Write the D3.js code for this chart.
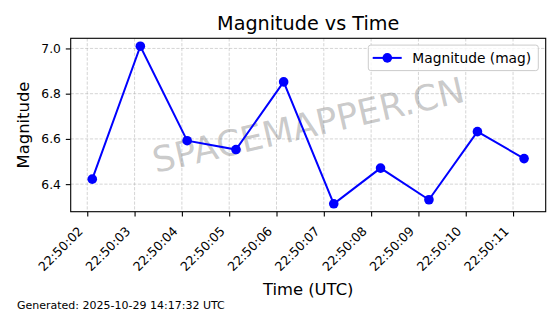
<!DOCTYPE html>
<html>
<head>
<meta charset="utf-8">
<script src="https://cdn.jsdelivr.net/npm/d3@7"></script>
<style>
  body { margin: 0; background: #fff; }
  svg { display: block; font-family: "DejaVu Sans", sans-serif; }
</style>
</head>
<body>
<div id="chart"></div>
<script>
const times = ["22:50:02.106", "22:50:03.122", "22:50:04.111", "22:50:05.143", "22:50:06.151",
               "22:50:07.210", "22:50:08.199", "22:50:09.222", "22:50:10.247", "22:50:11.233"];
const magnitudes = [6.422, 7.010, 6.592, 6.553, 6.852, 6.313, 6.471, 6.331, 6.632, 6.513];
const xTickLabels = ["22:50:02", "22:50:03", "22:50:04", "22:50:05", "22:50:06",
                     "22:50:07", "22:50:08", "22:50:09", "22:50:10", "22:50:11"];
const yTicks = [6.4, 6.6, 6.8, 7.0];
const seriesName = "Magnitude (mag)";
const titleText = "Magnitude vs Time";
const footerText = "Generated: 2025-10-29 14:17:32 UTC";
const watermark = "SPACEMAPPER.CN";

const W = 560, H = 314;
const margin = { top: 38.3, right: 14.3, bottom: 102.3, left: 70.7 };
const width = W - margin.left - margin.right;
const height = H - margin.top - margin.bottom;

const parseT = d3.utcParse("%H:%M:%S.%L");
const parseTick = d3.utcParse("%H:%M:%S");
const data = times.map((t, i) => ({ date: parseT(t), value: magnitudes[i] }));
const tickDates = xTickLabels.map(parseTick);

// 5% padding like matplotlib
const [t0, t1] = d3.extent(data, d => d.date);
const tp = (t1 - t0) * 0.05;
const [v0, v1] = d3.extent(data, d => d.value);
const vp = (v1 - v0) * 0.05;

const x = d3.scaleUtc()
    .domain([new Date(+t0 - tp), new Date(+t1 + tp)])
    .range([0, width]);
const y = d3.scaleLinear()
    .domain([v0 - vp, v1 + vp])
    .range([height, 0]);

const svg = d3.select("#chart").append("svg")
    .attr("width", W)
    .attr("height", H);

svg.append("rect").attr("width", W).attr("height", H).attr("fill", "#fff");

const g = svg.append("g")
    .attr("transform", `translate(${margin.left},${margin.top})`);

// grid
const grid = g.append("g").attr("stroke", "#b0b0b0").attr("stroke-opacity", 0.6)
    .attr("stroke-width", 0.9).attr("stroke-dasharray", "3.2,1.6");
grid.selectAll(".gx").data(tickDates).join("line")
    .attr("x1", d => x(d)).attr("x2", d => x(d))
    .attr("y1", 0).attr("y2", height);
grid.selectAll(".gy").data(yTicks).join("line")
    .attr("x1", 0).attr("x2", width)
    .attr("y1", d => y(d)).attr("y2", d => y(d));

// watermark
g.append("text")
    .attr("transform", `translate(${width / 2},${height / 2}) rotate(-13)`)
    .attr("text-anchor", "middle")
    .attr("dominant-baseline", "central")
    .attr("font-size", 35.5)
    .attr("fill", "#808080")
    .attr("fill-opacity", 0.42)
    .text(watermark);

// series
const line = d3.line().x(d => x(d.date)).y(d => y(d.value));
g.append("path")
    .datum(data)
    .attr("fill", "none")
    .attr("stroke", "#0000ff")
    .attr("stroke-width", 2)
    .attr("d", line);
g.selectAll(".pt").data(data).join("circle")
    .attr("cx", d => x(d.date))
    .attr("cy", d => y(d.value))
    .attr("r", 4.8)
    .attr("fill", "#0000ff");

// axes
const xAxis = d3.axisBottom(x)
    .tickValues(tickDates)
    .tickFormat(d3.utcFormat("%H:%M:%S"))
    .tickSize(4.9)
    .tickSizeOuter(0);
const gx = g.append("g")
    .attr("transform", `translate(0,${height})`)
    .call(xAxis)
    .attr("font-family", null);
gx.select(".domain").remove();
gx.selectAll("line").attr("stroke", "#000").attr("stroke-width", 1.1);
gx.selectAll("text")
    .attr("font-size", 12.6)
    .attr("fill", "#000")
    .attr("text-anchor", "end")
    .attr("dy", null)
    .attr("y", null)
    .attr("transform", "translate(-4,20.3) rotate(-45)");

const yAxis = d3.axisLeft(y)
    .tickValues(yTicks)
    .tickFormat(d3.format(".1f"))
    .tickSize(4.9)
    .tickPadding(4.9)
    .tickSizeOuter(0);
const gy = g.append("g").call(yAxis).attr("font-family", null);
gy.select(".domain").remove();
gy.selectAll("line").attr("stroke", "#000").attr("stroke-width", 1.1);
gy.selectAll("text").attr("font-size", 12.3).attr("fill", "#000");

// frame
g.append("rect")
    .attr("width", width).attr("height", height)
    .attr("fill", "none").attr("stroke", "#000").attr("stroke-width", 1.1);

// legend
const lg = g.append("g").attr("transform", `translate(${width - 177.4},${6.8})`);
lg.append("rect")
    .attr("width", 170).attr("height", 25.5).attr("rx", 2.5)
    .attr("fill", "#fff").attr("fill-opacity", 0.8)
    .attr("stroke", "#cccccc").attr("stroke-width", 1);
lg.append("line")
    .attr("x1", 4.4).attr("x2", 33.4).attr("y1", 12.8).attr("y2", 12.8)
    .attr("stroke", "#0000ff").attr("stroke-width", 2);
lg.append("circle").attr("cx", 19).attr("cy", 12.8).attr("r", 4.8).attr("fill", "#0000ff");
lg.append("text")
    .attr("x", 44).attr("y", 17.8)
    .attr("font-size", 13.8)
    .attr("fill", "#000")
    .text(seriesName);

// title and labels
svg.append("text")
    .attr("x", margin.left + width / 2).attr("y", 30)
    .attr("text-anchor", "middle")
    .attr("font-size", 19.2)
    .text(titleText);

svg.append("text")
    .attr("x", margin.left + width / 2).attr("y", 294.5)
    .attr("text-anchor", "middle")
    .attr("font-size", 16.4)
    .text("Time (UTC)");

svg.append("text")
    .attr("transform", `translate(29,${margin.top + height / 2}) rotate(-90)`)
    .attr("text-anchor", "middle")
    .attr("font-size", 16.4)
    .text("Magnitude");

svg.append("text")
    .attr("x", 17).attr("y", 308.5)
    .attr("font-size", 11)
    .text(footerText);
</script>
</body>
</html>
